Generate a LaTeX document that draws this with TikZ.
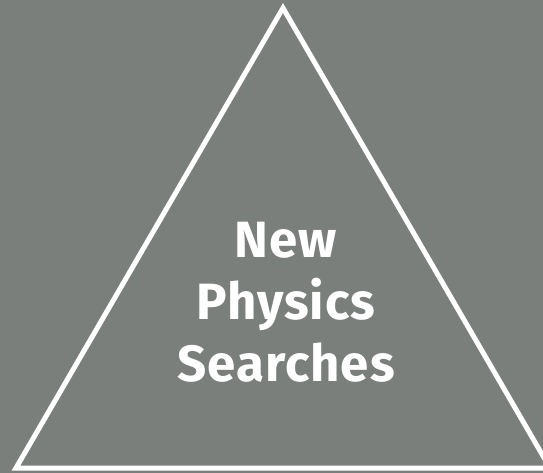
\documentclass[tikz,border=0pt]{standalone}
\usepackage{fontspec}
\setmainfont{Fira Sans}[LetterSpace=2]
\definecolor{bg}{HTML}{7B7F7C}
\tikzset{tri/.style={draw=white,line width=5pt,line join=miter},
  lbl/.style={text=white,font=\bfseries\fontsize{51}{62}\selectfont,align=center}}
\begin{document}
\begin{tikzpicture}[x=1pt,y=-1pt]
\fill[bg] (0,0) rectangle (543,473);
\useasboundingbox (0,0) rectangle (543,473);
\clip (0,0) rectangle (543,473);
\coordinate (apex) at (283,8);
\coordinate (bl) at (16,468);
\coordinate (br) at (550,468);
\draw[tri] (apex) -- (bl) -- (br) -- cycle;
\node[lbl] (t) at (286,302) {New\\Physics\\Searches};
\end{tikzpicture}
\end{document}
